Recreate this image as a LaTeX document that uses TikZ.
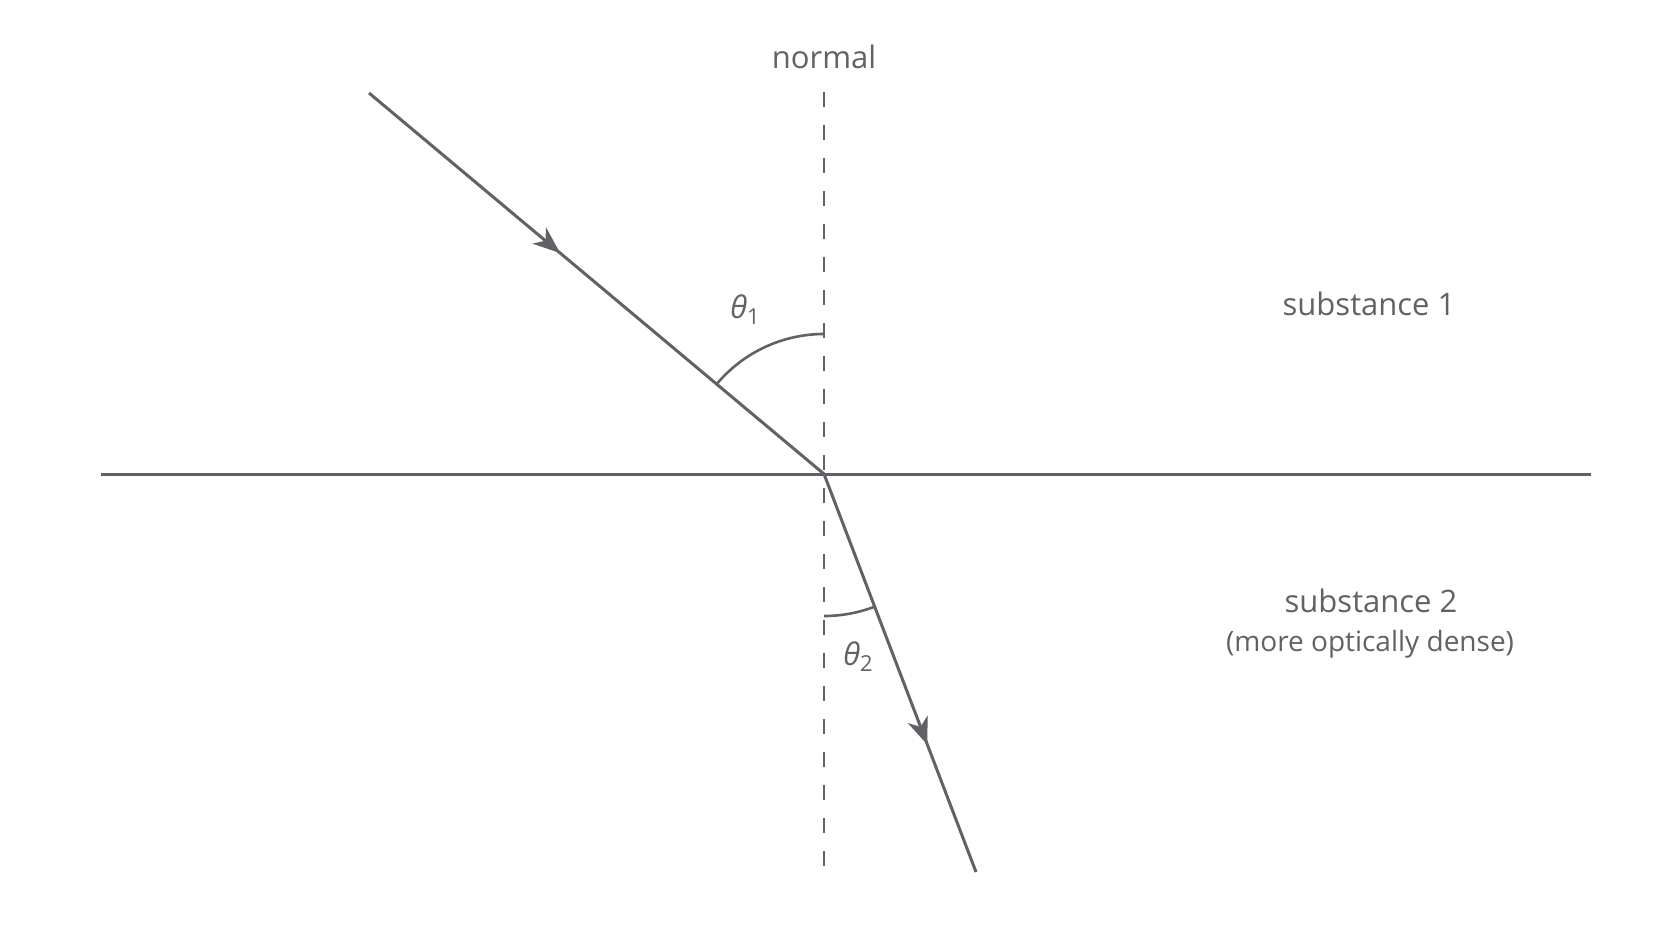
\documentclass[tikz,border=0pt]{standalone}
\usepackage{fontspec}
\setmainfont{Open Sans}
\usetikzlibrary{arrows.meta,decorations.markings}
\definecolor{ink}{HTML}{626266}
\tikzset{
  ray/.style={draw=ink, line width=3pt},
  normalline/.style={draw=ink, line width=2.6pt, dash pattern=on 15pt off 18pt},
  anglearc/.style={draw=ink, line width=2.6pt},
  lbl/.style={text=ink, font=\fontsize{31}{36}\selectfont, inner sep=0pt},
  midarrow/.style={postaction={decorate}, decoration={markings,
     mark=at position #1 with {\arrow{Stealth[length=27pt,width=21pt,inset=8pt]}}}}
}
\begin{document}
\begin{tikzpicture}[x=1pt,y=-1pt]
\useasboundingbox[fill=white] (0,0) rectangle (1672,941);
\coordinate (O) at (824,474);
\coordinate (N1) at (824,92);
\coordinate (N2) at (824,872);
\coordinate (IL) at (101,474);
\coordinate (IR) at (1591,474);
\coordinate (S) at (369,93);
\coordinate (E) at (976,872);
\coordinate (A1) at (824,334);
\coordinate (A2) at (824,616);
% normal
\draw[normalline] (N1) -- (N2);
% interface
\draw[ray] (IL) -- (IR);
% rays
\draw[ray, midarrow=0.42] (S) -- (O);
\draw[ray, midarrow=0.68] (O) -- (E);
% angle arcs
\draw[anglearc] (A1) arc[start angle=-90, end angle=-140, radius=140];
\draw[anglearc] (A2) arc[start angle=90, end angle=69.1, radius=142];
% labels
\node[lbl] (normal) at (824,57) {normal};
\node[lbl] (t1) at (745,310) {\itshape θ\raisebox{-0.35ex}{\fontsize{22}{24}\selectfont\upshape 1}};
\node[lbl] (t2) at (858,657) {\itshape θ\raisebox{-0.35ex}{\fontsize{22}{24}\selectfont\upshape 2}};
\node[lbl] (s1) at (1369,304) {substance 1};
\node[lbl] (s2) at (1371,601) {substance 2};
\node[lbl, font=\fontsize{28}{34}\selectfont] (s2b) at (1370,644) {(more optically dense)};
\end{tikzpicture}
\end{document}
